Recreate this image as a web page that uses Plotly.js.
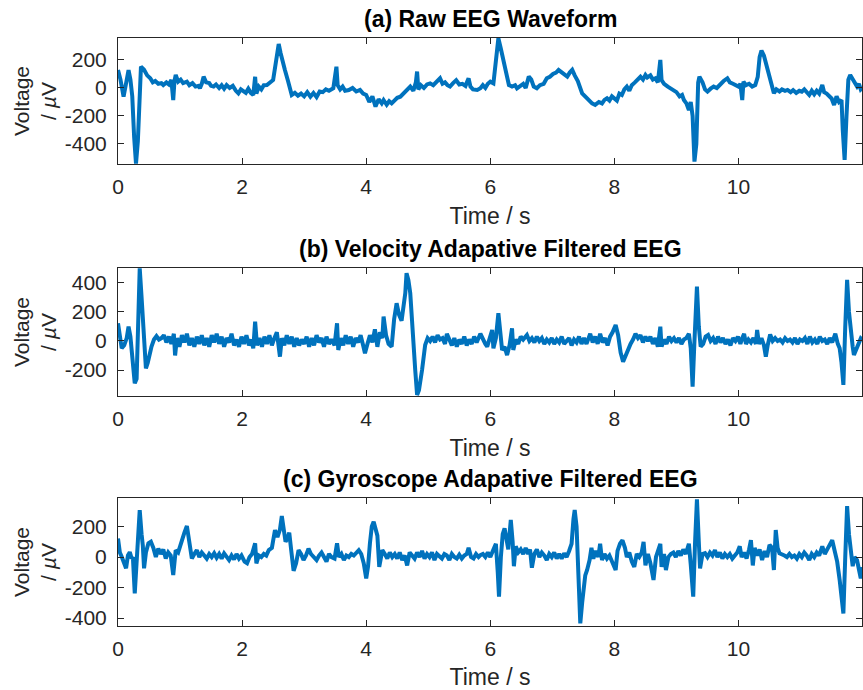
<!DOCTYPE html>
<html>
<head>
<meta charset="utf-8">
<script src="https://cdn.plot.ly/plotly-3.0.1.min.js"></script>
<style>html,body{margin:0;padding:0;background:#fff;}#chart{width:863px;height:690px;}</style>
</head>
<body>
<div id="chart"></div>
<script>
// ---------- data ----------
const panelTitles = ["(a) Raw EEG Waveform", "(b) Velocity Adapative Filtered EEG", "(c) Gyroscope Adapative Filtered EEG"];
const xTickVals = [0, 2, 4, 6, 8, 10];
const yTickValsA = [-400, -200, 0, 200];
const yTickValsB = [-200, 0, 200, 400];
const yTickValsC = [-400, -200, 0, 200];

const tA = [0.00,0.04,0.09,0.13,0.17,0.20,0.23,0.26,0.29,0.32,0.35,0.37,0.42,0.47,0.52,0.56,0.60,0.65,0.70,0.73,0.78,0.82,0.86,0.89,0.91,0.93,0.97,1.01,1.05,1.11,1.15,1.20,1.25,1.30,1.32,1.35,1.38,1.42,1.47,1.50,1.54,1.58,1.63,1.67,1.71,1.75,1.80,1.85,1.90,1.94,1.98,2.02,2.06,2.10,2.14,2.18,2.21,2.23,2.27,2.31,2.35,2.40,2.45,2.50,2.55,2.59,2.62,2.66,2.69,2.74,2.80,2.85,2.90,2.95,3.00,3.05,3.10,3.15,3.20,3.25,3.30,3.35,3.40,3.47,3.52,3.54,3.58,3.62,3.66,3.72,3.78,3.84,3.90,3.95,4.00,4.05,4.10,4.15,4.20,4.25,4.28,4.33,4.37,4.41,4.46,4.50,4.55,4.60,4.65,4.71,4.76,4.80,4.82,4.84,4.88,4.93,4.98,5.03,5.08,5.13,5.19,5.23,5.27,5.31,5.35,5.40,5.45,5.50,5.55,5.60,5.65,5.68,5.72,5.79,5.84,5.88,5.92,5.96,6.00,6.05,6.09,6.13,6.17,6.21,6.26,6.30,6.35,6.40,6.43,6.48,6.53,6.57,6.62,6.66,6.70,6.75,6.80,6.86,6.91,6.96,7.01,7.06,7.10,7.14,7.19,7.24,7.28,7.32,7.36,7.41,7.48,7.53,7.58,7.64,7.69,7.75,7.80,7.84,7.88,7.92,7.96,8.00,8.04,8.08,8.12,8.16,8.20,8.24,8.28,8.33,8.37,8.42,8.46,8.50,8.53,8.58,8.62,8.66,8.70,8.74,8.76,8.80,8.86,8.91,8.96,9.00,9.05,9.09,9.12,9.16,9.20,9.23,9.26,9.29,9.32,9.35,9.37,9.42,9.46,9.50,9.55,9.60,9.65,9.71,9.76,9.82,9.86,9.91,9.96,10.00,10.03,10.06,10.08,10.12,10.17,10.22,10.27,10.31,10.34,10.37,10.41,10.46,10.50,10.54,10.57,10.61,10.66,10.70,10.75,10.79,10.84,10.88,10.93,10.98,11.02,11.06,11.10,11.14,11.18,11.22,11.26,11.30,11.35,11.38,11.42,11.46,11.50,11.54,11.58,11.62,11.66,11.68,11.71,11.74,11.77,11.80,11.84,11.88,11.91,11.94,11.97,11.99];
const vA = [128,60,-62,40,128,60,-60,-350,-540,-380,60,152,130,90,69,40,50,30,35,21,40,25,57,-86,50,93,45,60,35,45,20,35,10,15,-2,30,81,40,35,15,10,25,0,20,-5,21,0,15,-20,-38,-10,-20,-35,-5,-35,-50,80,-40,10,-10,20,21,40,57,200,314,250,160,129,50,-50,-35,-55,-40,-60,-30,-62,-35,-65,-25,-30,-10,-20,-2,152,20,-10,10,-20,-15,0,-25,-14,-40,-50,-100,-60,-133,-80,-110,-86,-120,-95,-110,-90,-70,-62,-40,-10,10,-20,40,117,-10,20,0,25,33,20,40,69,30,40,20,10,35,55,25,30,15,69,10,-10,-14,-2,20,0,30,45,33,200,355,280,200,100,21,10,20,-2,10,30,0,81,60,10,-2,20,30,69,80,100,110,129,115,100,81,110,129,90,50,-38,-60,-90,-110,-121,-100,-110,-85,-74,-90,-60,-75,-90,-40,-50,-10,10,-20,20,40,57,80,60,93,75,90,60,69,40,200,57,30,10,-5,-14,-30,-60,-50,-86,-110,-157,-100,-200,-526,-400,40,81,40,-10,-26,-5,10,0,33,50,69,40,30,20,10,30,-86,45,20,30,10,21,80,220,267,230,152,80,30,-38,-10,-25,-10,-20,-14,-30,-15,-35,-20,-26,-10,-30,-50,-20,-45,-20,-40,21,-30,-40,-60,-75,-121,-60,-100,-86,-300,-514,-200,60,93,60,30,10,30,-10,-2];

const tB = [0.00,0.03,0.06,0.10,0.14,0.17,0.20,0.22,0.25,0.27,0.30,0.32,0.35,0.38,0.41,0.43,0.45,0.48,0.51,0.54,0.58,0.62,0.66,0.70,0.74,0.78,0.82,0.86,0.90,0.92,0.95,0.99,1.03,1.07,1.11,1.15,1.19,1.23,1.27,1.31,1.35,1.39,1.43,1.47,1.51,1.55,1.59,1.63,1.67,1.71,1.75,1.79,1.83,1.87,1.91,1.95,1.99,2.03,2.07,2.11,2.15,2.18,2.21,2.24,2.28,2.32,2.36,2.40,2.44,2.48,2.52,2.56,2.61,2.64,2.68,2.72,2.76,2.80,2.84,2.88,2.92,2.96,3.00,3.04,3.08,3.12,3.16,3.20,3.24,3.28,3.32,3.36,3.40,3.44,3.49,3.53,3.55,3.59,3.63,3.67,3.71,3.75,3.79,3.83,3.87,3.91,3.95,3.98,4.02,4.06,4.10,4.14,4.18,4.22,4.26,4.28,4.32,4.36,4.41,4.45,4.49,4.53,4.57,4.60,4.63,4.65,4.68,4.71,4.74,4.77,4.79,4.82,4.85,4.90,4.95,4.99,5.03,5.07,5.11,5.15,5.19,5.23,5.27,5.30,5.34,5.38,5.42,5.46,5.50,5.54,5.58,5.62,5.66,5.70,5.74,5.78,5.84,5.88,5.92,5.95,5.99,6.03,6.05,6.09,6.13,6.16,6.19,6.23,6.27,6.31,6.35,6.37,6.41,6.45,6.49,6.53,6.59,6.63,6.67,6.71,6.75,6.79,6.83,6.87,6.91,6.95,6.99,7.03,7.07,7.11,7.15,7.19,7.23,7.27,7.31,7.35,7.39,7.43,7.47,7.51,7.55,7.59,7.61,7.65,7.69,7.73,7.77,7.81,7.85,7.89,7.93,7.97,8.02,8.06,8.10,8.14,8.18,8.22,8.26,8.30,8.34,8.38,8.42,8.46,8.50,8.54,8.58,8.62,8.66,8.70,8.74,8.76,8.80,8.84,8.88,8.92,8.96,9.00,9.04,9.08,9.12,9.16,9.20,9.23,9.26,9.29,9.33,9.36,9.39,9.43,9.47,9.51,9.55,9.59,9.63,9.67,9.71,9.75,9.79,9.83,9.87,9.91,9.95,9.99,10.03,10.06,10.09,10.12,10.16,10.20,10.24,10.28,10.30,10.33,10.37,10.41,10.44,10.47,10.51,10.55,10.59,10.63,10.67,10.71,10.75,10.79,10.83,10.87,10.91,10.95,10.99,11.03,11.07,11.11,11.15,11.19,11.23,11.27,11.31,11.35,11.39,11.43,11.47,11.51,11.56,11.60,11.63,11.66,11.69,11.72,11.75,11.78,11.81,11.84,11.86,11.90,11.94,11.97,11.99];
const vB = [122,40,-50,-30,20,99,30,-62,-180,-292,-260,100,501,300,99,-80,-188,-150,-80,-39,10,33,10,20,40,-10,30,-20,50,-100,20,-40,40,-10,50,-30,20,-40,30,-20,40,-30,20,-40,40,-10,50,-20,30,-40,20,-10,50,-30,10,-40,30,-20,40,-30,10,-50,133,-30,20,-40,30,-20,40,-30,20,60,-108,20,-30,40,-20,30,-40,20,-30,10,-20,30,-40,20,-30,40,-10,20,-40,30,-20,10,-30,122,-62,20,-30,40,-20,30,-40,20,-10,40,-30,-85,-20,40,-10,80,-40,60,20,168,40,-20,-39,150,260,180,140,248,330,467,420,329,100,-100,-200,-372,-340,-200,-28,20,0,30,-10,40,10,20,-20,50,10,-30,20,-39,10,-20,30,-30,10,-20,30,-10,50,10,-20,-39,20,76,-50,20,191,20,-62,-40,-97,-30,87,-62,10,-20,30,10,41,0,20,-10,30,0,20,-20,10,-10,20,-20,10,-10,30,-20,0,20,-30,10,-10,30,-20,20,-20,30,50,-10,30,-20,50,-10,20,-30,30,60,110,40,-80,-143,-100,-50,-20,10,50,20,40,-10,30,0,30,-20,20,-40,99,-39,10,-20,30,0,20,-10,20,-20,10,20,50,-50,-315,0,375,100,-39,-20,30,41,0,20,-20,30,-10,20,-20,10,-30,20,0,30,-20,20,50,-20,10,-10,20,-20,76,-20,20,-30,-108,-30,45,0,20,0,10,-10,20,0,10,-10,20,-20,10,0,20,-20,30,-10,10,-20,30,0,10,-20,20,-10,50,-20,-50,-150,-303,100,421,200,45,-40,-97,-60,-20,18,10];

const tC = [0.00,0.03,0.06,0.10,0.13,0.16,0.19,0.22,0.24,0.27,0.30,0.32,0.35,0.38,0.40,0.42,0.45,0.49,0.53,0.57,0.61,0.65,0.69,0.73,0.77,0.81,0.85,0.89,0.93,0.97,1.03,1.07,1.11,1.15,1.19,1.23,1.27,1.31,1.35,1.39,1.43,1.47,1.51,1.55,1.59,1.63,1.67,1.71,1.75,1.79,1.83,1.87,1.91,1.95,1.99,2.04,2.08,2.12,2.16,2.21,2.23,2.27,2.31,2.35,2.39,2.43,2.48,2.53,2.57,2.61,2.64,2.67,2.70,2.73,2.76,2.79,2.83,2.87,2.91,2.95,2.99,3.03,3.07,3.11,3.15,3.20,3.24,3.28,3.32,3.36,3.40,3.44,3.49,3.53,3.56,3.60,3.64,3.68,3.72,3.76,3.80,3.84,3.88,3.92,3.96,4.00,4.03,4.06,4.09,4.12,4.15,4.18,4.21,4.23,4.26,4.30,4.34,4.38,4.42,4.46,4.50,4.54,4.58,4.62,4.66,4.70,4.74,4.78,4.82,4.86,4.90,4.94,4.98,5.02,5.06,5.10,5.14,5.18,5.22,5.26,5.30,5.34,5.38,5.42,5.46,5.50,5.54,5.58,5.62,5.65,5.69,5.73,5.77,5.81,5.84,5.88,5.92,5.96,6.00,6.04,6.09,6.12,6.14,6.17,6.20,6.23,6.26,6.29,6.31,6.33,6.36,6.38,6.41,6.45,6.49,6.53,6.57,6.61,6.64,6.67,6.71,6.75,6.79,6.83,6.87,6.91,6.95,6.99,7.03,7.07,7.11,7.15,7.19,7.23,7.27,7.31,7.34,7.36,7.39,7.42,7.45,7.48,7.50,7.53,7.56,7.60,7.63,7.66,7.70,7.74,7.77,7.80,7.84,7.88,7.92,7.96,8.00,8.02,8.05,8.09,8.13,8.17,8.20,8.24,8.28,8.32,8.36,8.40,8.44,8.47,8.50,8.54,8.58,8.61,8.63,8.67,8.71,8.74,8.76,8.80,8.83,8.87,8.91,8.95,8.99,9.03,9.07,9.11,9.15,9.20,9.23,9.27,9.30,9.33,9.36,9.38,9.42,9.46,9.50,9.54,9.58,9.62,9.66,9.70,9.74,9.78,9.82,9.86,9.90,9.94,9.98,10.02,10.05,10.09,10.13,10.17,10.20,10.23,10.26,10.30,10.34,10.38,10.42,10.46,10.50,10.54,10.57,10.60,10.63,10.66,10.70,10.74,10.78,10.82,10.86,10.90,10.94,10.98,11.02,11.06,11.10,11.14,11.18,11.22,11.26,11.30,11.35,11.39,11.43,11.47,11.51,11.55,11.59,11.63,11.66,11.69,11.72,11.75,11.78,11.81,11.84,11.87,11.91,11.94,11.97,11.99];
const vC = [122,30,2,-40,-74,10,32,-10,0,-238,-50,32,308,150,76,-74,30,90,100,60,0,55,20,50,-10,30,10,-118,45,30,122,160,203,80,-10,20,45,0,30,10,-10,20,0,25,-5,20,-10,24,0,-20,10,-15,20,-10,10,-30,-41,0,20,90,-41,10,0,20,10,45,60,177,130,180,269,180,100,120,160,50,-90,-40,45,20,-20,10,55,20,0,-20,10,30,0,-30,20,0,-10,90,0,20,-20,10,0,20,10,30,45,20,-40,-140,-60,90,200,232,180,140,-65,0,45,20,-10,30,0,20,-10,30,-20,10,-55,30,10,-10,30,0,40,-10,20,0,30,-20,20,0,-10,20,10,-20,20,0,-10,15,-10,10,20,60,0,-10,20,0,13,20,0,30,0,40,87,-100,-260,0,150,188,120,50,150,243,100,-60,70,30,50,20,60,20,50,-70,20,50,0,30,10,-20,20,0,30,-10,20,-10,25,0,40,87,250,308,200,-100,-435,-300,-195,-120,-85,-20,60,-10,40,0,87,-20,20,-10,10,-30,-60,-85,40,87,110,60,0,30,-30,-65,20,0,30,100,-55,20,-40,-100,-150,0,40,87,-65,20,-85,0,20,30,0,40,10,50,20,87,-50,-260,100,378,100,-75,20,25,0,30,10,45,0,30,-10,20,0,20,-10,10,30,70,0,30,-10,50,110,-55,60,10,50,-20,40,0,80,60,-85,177,60,25,20,10,0,20,0,10,-10,20,0,30,10,-20,20,0,30,10,70,20,50,80,110,40,-30,-150,-250,-370,0,334,150,50,-60,0,-20,-80,-140,-65];

// ---------- styling ----------
const lineColor = '#0072BD';
const axisColor = '#262626';
const fontFam = '"Liberation Sans", Arial, Helvetica, sans-serif';

function trace(t, v, xa, ya) {
  return {x: t, y: v, xaxis: xa, yaxis: ya, type: 'scatter', mode: 'lines',
          line: {color: lineColor, width: 4}, hoverinfo: 'skip', showlegend: false};
}

function xAxis(anchor) {
  return {anchor: anchor, domain: [0, 1], range: [0, 11.99], tickvals: xTickVals,
          ticktext: xTickVals.map(String),
          ticks: 'inside', ticklen: 6, tickwidth: 1, tickcolor: axisColor,
          showline: true, linecolor: axisColor, linewidth: 1, mirror: 'ticks',
          showgrid: false, zeroline: false, automargin: false, ticklabelstandoff: 4,
          tickfont: {family: fontFam, size: 21, color: axisColor},
          title: {text: 'Time / s', font: {family: fontFam, size: 23, color: axisColor}, standoff: 10}};
}
function yAxis(anchor, dom, range, tv) {
  return {anchor: anchor, domain: dom, range: range, tickvals: tv,
          ticktext: tv.map(String),
          ticks: 'inside', ticklen: 6, tickwidth: 1, tickcolor: axisColor,
          showline: true, linecolor: axisColor, linewidth: 1, mirror: 'ticks',
          showgrid: false, zeroline: false, automargin: false, ticklabelstandoff: 6,
          tickfont: {family: fontFam, size: 21, color: axisColor},
          title: {text: 'Voltage<br>/ <i>µ</i>V', font: {family: fontFam, size: 21, color: axisColor}, standoff: 2}};
}

const data = [trace(tA, vA, 'x', 'y'), trace(tB, vB, 'x2', 'y2'), trace(tC, vC, 'x3', 'y3')];

const domA = [0.7857, 1.0], domB = [0.3912, 0.6088], domC = [0.0, 0.2177];

const annotations = panelTitles.map((txt, i) => ({
  text: '<b>' + txt + '</b>', xref: 'paper', yref: 'paper', x: 0.5,
  y: [domA, domB, domC][i][1], xanchor: 'center', yanchor: 'bottom', yshift: 4,
  showarrow: false, font: {family: fontFam, size: 23, color: '#000'}
}));

const layout = {
  width: 863, height: 690,
  margin: {l: 118, r: 1, t: 38, b: 64},
  paper_bgcolor: '#fff', plot_bgcolor: '#fff',
  xaxis: xAxis('y'), yaxis: yAxis('x', domA, [-543, 357], yTickValsA),
  xaxis2: xAxis('y2'), yaxis2: yAxis('x2', domB, [-379, 503], yTickValsB),
  xaxis3: xAxis('y3'), yaxis3: yAxis('x3', domC, [-452, 387], yTickValsC),
  annotations: annotations
};

Plotly.newPlot('chart', data, layout, {displayModeBar: false, staticPlot: true});
</script>
</body>
</html>
